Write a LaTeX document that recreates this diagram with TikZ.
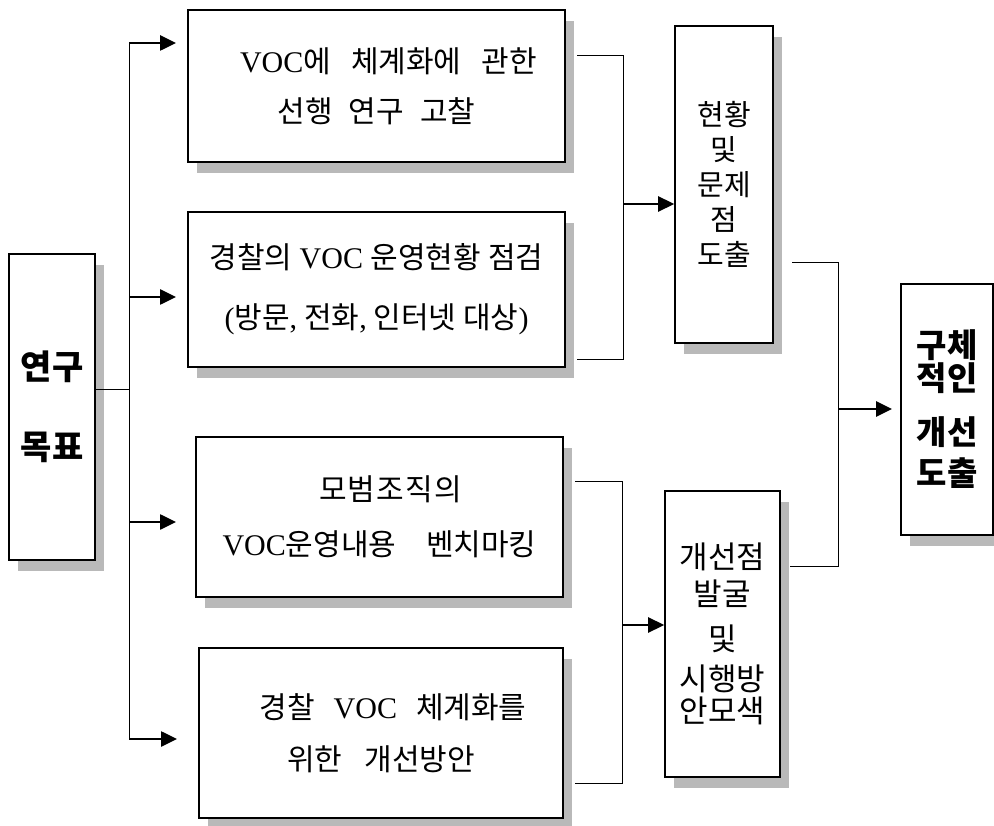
\documentclass[tikz,border=0pt]{standalone}
\usepackage{fontspec}
\setmainfont{Liberation Serif}
\newfontfamily\kr{Noto Sans CJK KR}
\usetikzlibrary{arrows.meta,shadows}
\definecolor{shade}{RGB}{185,185,185}
\newcommand\lat[1]{{\rmfamily #1}}
\begin{document}
\begin{tikzpicture}[x=1pt,y=-1pt,
  box/.style={draw, line width=1.6pt, fill=white, inner sep=0pt, align=center,
    drop shadow={shadow xshift=9pt, shadow yshift=-11pt, fill=shade, draw=none, opacity=1}},
  link/.style={line width=1pt},
  arr/.style={line width=2.6pt, -{Triangle[length=16pt,width=15pt]}},
]
\useasboundingbox (0,0) rectangle (994,826);

% boxes
\node[box, minimum width=86pt, minimum height=306pt,
  font=\kr\bfseries\fontsize{34}{80}\selectfont] (yg) at (52,407)
  {연구\\목표};

\node[box, minimum width=377pt, minimum height=152pt,
  font=\kr\fontsize{30}{50}\selectfont] (b1) at (376.5,86)
  {\hspace*{24pt}\makebox[297pt][s]{\lat{VOC}에 체계화에 관한}\\\makebox[198pt][s]{선행 연구 고찰}};

\node[box, minimum width=377pt, minimum height=155pt,
  font=\kr\fontsize{30}{60}\selectfont] (b2) at (376.5,289.5)
  {\makebox[334pt][s]{경찰의 \lat{VOC} 운영현황 점검}\\\makebox[304pt][s]{\lat{(}방문\lat{,} 전화\lat{,} 인터넷 대상\lat{)}}};

\node[box, minimum width=367pt, minimum height=160pt,
  font=\kr\fontsize{30}{55}\selectfont] (b3) at (379.5,517)
  {\hspace*{22pt}\makebox[143pt][s]{모\hfil 범\hfil 조\hfil 직\hfil 의}\\\makebox[314pt][s]{\lat{VOC}운영내용 벤치마킹}};

\node[box, minimum width=364pt, minimum height=170pt,
  font=\kr\fontsize{30}{52}\selectfont] (b4) at (381,733)
  {\hspace*{24pt}\makebox[267pt][s]{경찰 \lat{VOC} 체계화를}\\\makebox[188pt][s]{위한 개선방안}};

\node[box, minimum width=98pt, minimum height=317pt,
  font=\kr\fontsize{29}{35}\selectfont] (hw) at (724,184.5)
  {현황\\및\\문제\\점\\도출};

\node[box, minimum width=115pt, minimum height=286pt,
  font=\kr\fontsize{31}{37}\selectfont] (gs) at (722.5,634)
  {개선점\\발굴\\[8pt]및\\[3pt]시행방\\[-5pt]안모색};

\node[box, minimum width=92pt, minimum height=251pt,
  font=\kr\bfseries\fontsize{33}{33}\selectfont] (gc) at (947,409.5)
  {구체\\적인\\[21pt]개선\\[8pt]도출};

% left trunk
\coordinate (t1) at (129,43);
\coordinate (t2) at (129,297);
\coordinate (t3) at (129,522);
\coordinate (t4) at (129,739);
\coordinate (tj) at (129,390);
\coordinate (a1) at (176,43);
\coordinate (a2) at (176,297);
\coordinate (a3) at (176,522);
\coordinate (a4) at (177,739);
\draw[link] (t1) -- (t4);
\draw[link] (yg.east |- tj) -- (tj);
\draw[arr] (t1) -- (a1);
\draw[arr] (t2) -- (a2);
\draw[arr] (t3) -- (a3);
\draw[arr] (t4) -- (a4);

% upper bracket
\coordinate (r1a) at (577,56);
\coordinate (r1b) at (623,56);
\coordinate (r1c) at (623,360);
\coordinate (r1d) at (577,360);
\coordinate (r1m) at (623,204);
\draw[link] (r1a) -- (r1b) -- (r1c) -- (r1d);
\draw[arr] (r1m) -- (hw.west |- r1m);

% lower bracket
\coordinate (r2a) at (575,481);
\coordinate (r2b) at (622,481);
\coordinate (r2c) at (622,783);
\coordinate (r2d) at (575,783);
\coordinate (r2m) at (622,625);
\draw[link] (r2a) -- (r2b) -- (r2c) -- (r2d);
\draw[arr] (r2m) -- (gs.west |- r2m);

% right bracket
\coordinate (r3a) at (792,263);
\coordinate (r3b) at (838,263);
\coordinate (r3c) at (838,566);
\coordinate (r3d) at (790,566);
\coordinate (r3m) at (838,409);
\coordinate (a5) at (892,409);
\draw[link] (r3a) -- (r3b) -- (r3c) -- (r3d);
\draw[arr] (r3m) -- (a5);
\end{tikzpicture}
\end{document}
